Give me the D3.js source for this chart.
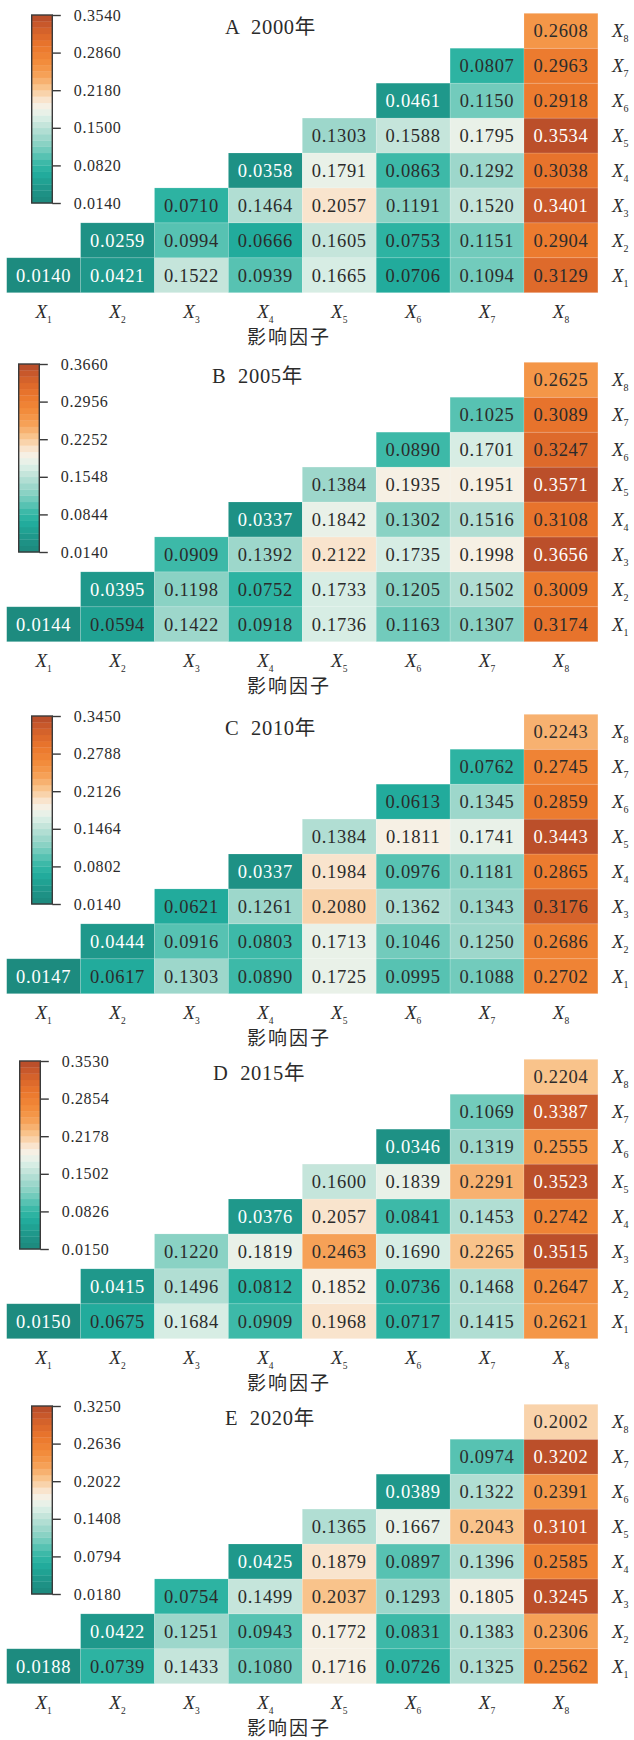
<!DOCTYPE html>
<html><head><meta charset="utf-8">
<script src="https://cdn.jsdelivr.net/npm/d3@7"></script>
<style>body{margin:0;background:#fff}svg{display:block}</style>
</head><body><svg id="c" width="634" height="1740"></svg>
<script>
// ---------------- data ----------------
const factors = ["1","2","3","4","5","6","7","8"];
const panelLetters = ["A","B","C","D","E"];
const years = ["2000年","2005年","2010年","2015年","2020年"];
const axisTitle = "影响因子";

// colour-bar tick labels (top to bottom)
const ticks2000 = [0.3540,0.2860,0.2180,0.1500,0.0820,0.0140];
const ticks2005 = [0.3660,0.2956,0.2252,0.1548,0.0844,0.0140];
const ticks2010 = [0.3450,0.2788,0.2126,0.1464,0.0802,0.0140];
const ticks2015 = [0.3530,0.2854,0.2178,0.1502,0.0826,0.0150];
const ticks2020 = [0.3250,0.2636,0.2022,0.1408,0.0794,0.0180];

// interaction q values; row Xr holds columns Xr..X8
const q2000 = [
 [0.0140,0.0421,0.1522,0.0939,0.1665,0.0706,0.1094,0.3129],
 [0.0259,0.0994,0.0666,0.1605,0.0753,0.1151,0.2904],
 [0.0710,0.1464,0.2057,0.1191,0.1520,0.3401],
 [0.0358,0.1791,0.0863,0.1292,0.3038],
 [0.1303,0.1588,0.1795,0.3534],
 [0.0461,0.1150,0.2918],
 [0.0807,0.2963],
 [0.2608]];
const q2005 = [
 [0.0144,0.0594,0.1422,0.0918,0.1736,0.1163,0.1307,0.3174],
 [0.0395,0.1198,0.0752,0.1733,0.1205,0.1502,0.3009],
 [0.0909,0.1392,0.2122,0.1735,0.1998,0.3656],
 [0.0337,0.1842,0.1302,0.1516,0.3108],
 [0.1384,0.1935,0.1951,0.3571],
 [0.0890,0.1701,0.3247],
 [0.1025,0.3089],
 [0.2625]];
const q2010 = [
 [0.0147,0.0617,0.1303,0.0890,0.1725,0.0995,0.1088,0.2702],
 [0.0444,0.0916,0.0803,0.1713,0.1046,0.1250,0.2686],
 [0.0621,0.1261,0.2080,0.1362,0.1343,0.3176],
 [0.0337,0.1984,0.0976,0.1181,0.2865],
 [0.1384,0.1811,0.1741,0.3443],
 [0.0613,0.1345,0.2859],
 [0.0762,0.2745],
 [0.2243]];
const q2015 = [
 [0.0150,0.0675,0.1684,0.0909,0.1968,0.0717,0.1415,0.2621],
 [0.0415,0.1496,0.0812,0.1852,0.0736,0.1468,0.2647],
 [0.1220,0.1819,0.2463,0.1690,0.2265,0.3515],
 [0.0376,0.2057,0.0841,0.1453,0.2742],
 [0.1600,0.1839,0.2291,0.3523],
 [0.0346,0.1319,0.2555],
 [0.1069,0.3387],
 [0.2204]];
const q2020 = [
 [0.0188,0.0739,0.1433,0.1080,0.1716,0.0726,0.1325,0.2562],
 [0.0422,0.1251,0.0943,0.1772,0.0831,0.1383,0.2306],
 [0.0754,0.1499,0.2037,0.1293,0.1805,0.3245],
 [0.0425,0.1879,0.0897,0.1396,0.2585],
 [0.1365,0.1667,0.2043,0.3101],
 [0.0389,0.1322,0.2391],
 [0.0974,0.3202],
 [0.2002]];

const allTicks = [ticks2000,ticks2005,ticks2010,ticks2015,ticks2020];
const allQ = [q2000,q2005,q2010,q2015,q2020];

// ---------------- style / layout ----------------
const stopT = [0,0.08,0.16,0.22,0.30,0.36,0.42,0.46,0.50,0.53,0.56,0.61,0.68,0.74,0.80,0.86,0.92,0.96,1];
const stopC = ["#1c887c","#1f978a","#22ae9e","#3fbaa9","#80cfc1","#a3d9cd","#c7e6dc","#dcefe6","#f3f3ea","#f8ede0","#f9dfc3","#f9c690","#f6a258","#f38f3e","#ee7f31","#e5702b","#d3612b","#c4552b","#b44b2a"];
const NB = 30;
const cmap = d3.scaleLinear().domain(stopT).range(stopC).interpolate(d3.interpolateRgb).clamp(true);
const qcol = t => { const k = Math.min(NB-1, Math.max(0, Math.floor(t*NB))); return cmap((k+0.5)/NB); };

const panelY = [0, 349, 701, 1046, 1391];
const panelDX = [0, -13, 0, -12, 0];
const serif = "'Liberation Serif','Times New Roman','Noto Sans CJK SC',serif";
const svg = d3.select("#c");

allQ.forEach((Q, i) => {
  const ticks = allTicks[i];
  const lo = d3.min(ticks), hi = d3.max(ticks);
  const tn = d3.scaleLinear().domain([lo, hi]).range([0, 1]).clamp(true);
  const g = svg.append("g").attr("transform", `translate(0,${panelY[i]})`);
  const x = d3.scaleBand().domain(factors).range([6.7, 597.9]);
  const y = d3.scaleBand().domain(factors.slice().reverse()).range([13.3, 292.7]);

  const cells = [];
  Q.forEach((row, r) => row.forEach((v, k) => cells.push({r: factors[r], c: factors[r + k], v})));

  g.selectAll("rect.cell").data(cells).join("rect").attr("class", "cell")
    .attr("x", d => x(d.c)).attr("y", d => y(d.r))
    .attr("width", x.bandwidth()).attr("height", y.bandwidth())
    .attr("fill", d => qcol(tn(d.v)))
    .attr("stroke", "rgba(255,255,255,0.25)").attr("stroke-width", 0.6);

  g.selectAll("text.val").data(cells).join("text").attr("class", "val")
    .attr("x", d => x(d.c) + x.bandwidth() / 2)
    .attr("y", d => y(d.r) + y.bandwidth() / 2 + 6.3)
    .attr("text-anchor", "middle")
    .attr("font-family", serif).attr("font-size", 18.5).attr("letter-spacing", 0.7)
    .attr("fill", d => { const t = tn(d.v); return (t < 0.12 || t > 0.95) ? "#ffffff" : "#2b2b2b"; })
    .text(d => d.v.toFixed(4));

  // bottom axis labels
  const bl = g.selectAll("text.bl").data(factors).join("text").attr("class", "bl")
    .attr("x", d => x(d) + x.bandwidth() / 2).attr("y", 318)
    .attr("text-anchor", "middle").attr("font-family", serif).attr("fill", "#2b2b2b");
  bl.append("tspan").attr("font-size", 19).attr("font-style", "italic").text("X");
  bl.append("tspan").attr("font-size", 9.5).attr("dy", 4.5).text(d => d);

  // right labels
  const rl = g.selectAll("text.rl").data(factors).join("text").attr("class", "rl")
    .attr("x", 612).attr("y", d => y(d) + y.bandwidth() / 2 + 6.5)
    .attr("font-family", serif).attr("fill", "#2b2b2b");
  rl.append("tspan").attr("font-size", 19).attr("font-style", "italic").text("X");
  rl.append("tspan").attr("font-size", 10).attr("dy", 5).text(d => d);

  // axis title
  g.append("text").attr("x", 289).attr("y", 344).attr("text-anchor", "middle")
    .attr("font-family", "'Noto Sans CJK SC',sans-serif").attr("font-size", 19)
    .attr("letter-spacing", 2).attr("fill", "#2b2b2b").text(axisTitle);

  // panel title
  g.append("text").attr("x", 225 + panelDX[i]).attr("y", 34)
    .attr("font-family", serif).attr("font-size", 20.5).attr("letter-spacing", 0.7)
    .attr("fill", "#2b2b2b").attr("xml:space", "preserve")
    .text(panelLetters[i] + "  " + years[i]);

  // colour bar
  const cbX = 31.7 + panelDX[i], cbW = 20.6, cbTop = 15, cbBot = 203;
  const cy = d3.scaleLinear().domain([lo, hi]).range([cbBot, cbTop]);
  const bands = d3.range(NB);
  g.selectAll("rect.band").data(bands).join("rect").attr("class", "band")
    .attr("x", cbX).attr("width", cbW)
    .attr("y", k => cy(lo + (k + 1) / NB * (hi - lo)))
    .attr("height", k => cy(lo + k / NB * (hi - lo)) - cy(lo + (k + 1) / NB * (hi - lo)) + 0.3)
    .attr("fill", k => cmap((k + 0.5) / NB));
  g.append("rect").attr("x", cbX).attr("y", cbTop).attr("width", cbW).attr("height", cbBot - cbTop)
    .attr("fill", "none").attr("stroke", "#3a3a3a").attr("stroke-width", 1.4);
  const ax = g.append("g").attr("transform", `translate(${cbX + cbW},0)`)
    .call(d3.axisRight(cy).tickValues(ticks).tickFormat(d3.format(".4f")).tickSize(8.5).tickPadding(13));
  ax.select(".domain").remove();
  ax.selectAll(".tick line").attr("stroke", "#3a3a3a").attr("stroke-width", 1.4);
  ax.selectAll(".tick text").attr("font-family", serif).attr("font-size", 16)
    .attr("letter-spacing", 0.6).attr("fill", "#2b2b2b");
});
</script></body></html>
